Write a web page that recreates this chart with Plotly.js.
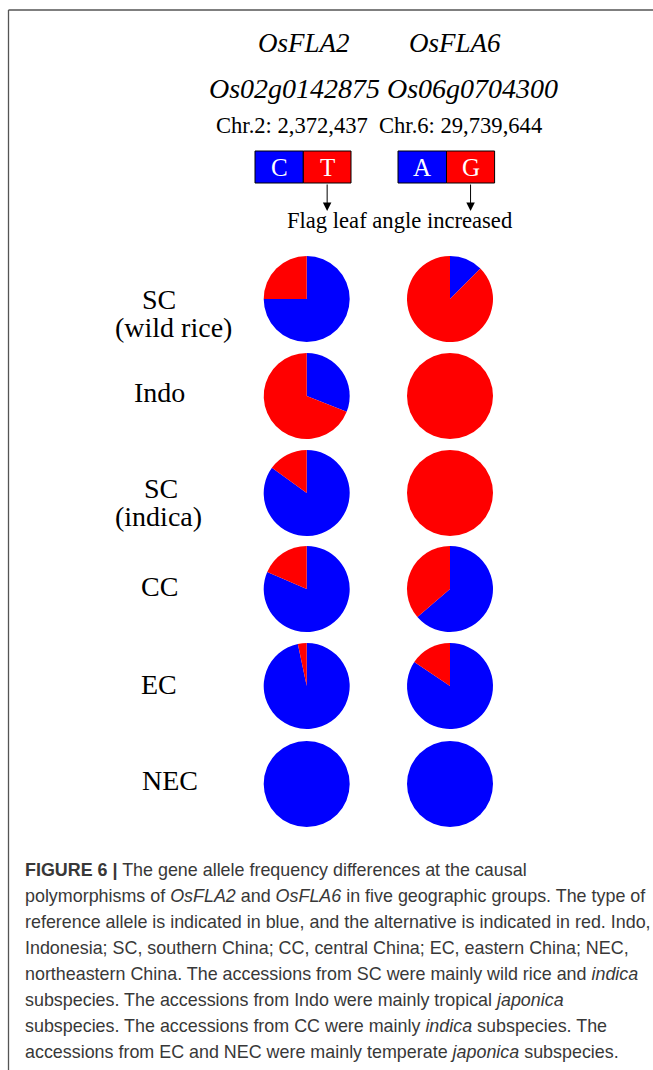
<!DOCTYPE html>
<html>
<head>
<meta charset="utf-8">
<script src="https://cdn.plot.ly/plotly-3.0.1.min.js"></script>
<style>
  html, body { margin: 0; padding: 0; background: #ffffff; overflow: hidden; }
  #chart { width: 653px; height: 1070px; }
</style>
</head>
<body>
<div id="chart"></div>
<script>
// ---------------- data ----------------
const groups    = ["SC", "Indo", "SC", "CC", "EC", "NEC"];
const subgroups = ["(wild rice)", "", "(indica)", "", "", ""];
const genes      = ["OsFLA2", "OsFLA6"];
const geneIds    = ["Os02g0142875", "Os06g0704300"];
const positions  = ["Chr.2: 2,372,437", "Chr.6: 29,739,644"];
const refAlleles = ["C", "A"];
const altAlleles = ["T", "G"];
const effectLabel = "Flag leaf angle increased";
// allele frequencies (reference = blue, alternative = red)
const fla2Ref = [0.75, 0.31, 0.85, 0.815, 0.967, 1.0];
const fla2Alt = [0.25, 0.69, 0.15, 0.185, 0.033, 0.0];
const fla6Ref = [0.125, 0.0, 0.0, 0.637, 0.844, 1.0];
const fla6Alt = [0.875, 1.0, 1.0, 0.363, 0.156, 0.0];
const captionLines = [
  "<b>FIGURE 6 |</b> The gene allele frequency differences at the causal",
  "polymorphisms of <i>OsFLA2</i> and <i>OsFLA6</i> in five geographic groups. The type of",
  "reference allele is indicated in blue, and the alternative is indicated in red. Indo,",
  "Indonesia; SC, southern China; CC, central China; EC, eastern China; NEC,",
  "northeastern China. The accessions from SC were mainly wild rice and <i>indica</i>",
  "subspecies. The accessions from Indo were mainly tropical <i>japonica</i>",
  "subspecies. The accessions from CC were mainly <i>indica</i> subspecies. The",
  "accessions from EC and NEC were mainly temperate <i>japonica</i> subspecies."
];

// ---------------- layout constants ----------------
const W = 653, H = 1070;
const BLUE = "#0000ff", RED = "#ff0000";
const SERIF = "Liberation Serif, Times New Roman, serif";
const SANS = "Liberation Sans, Arial, sans-serif";
const colX = [306.7, 450];
const rowY = [299, 396, 493, 589, 686, 784];
const R = 43;
const labelLeft = [139.5, 131.5, 141.5, 139, 139, 139.5];
const labelY = [299, 392, 488, 586, 684, 780];
const subLeft = 112.5, subDy = 28;
const geneX = [304, 455], geneY = 43;
const idX = [294, 472], idY = 88;
const posX = [292.4, 460.5], posY = 125;
const boxX = [[255, 303.3, 351], [398, 446.5, 494.6]];
const boxTop = 151, boxBot = 183, arrowTip = 211;
const effectX = 400, effectY = 220;
const capX = 22.7, capY0 = 870, capDy = 26;

const refSeries = [fla2Ref, fla6Ref];
const altSeries = [fla2Alt, fla6Alt];

const traces = [];
for (let c = 0; c < 2; c++) {
  for (let r = 0; r < groups.length; r++) {
    traces.push({
      type: "pie",
      labels: ["Reference", "Alternative"],
      values: [refSeries[c][r], altSeries[c][r]],
      marker: { colors: [BLUE, RED], line: { width: 0 } },
      sort: false,
      direction: "clockwise",
      rotation: 0,
      textinfo: "none",
      hoverinfo: "skip",
      showlegend: false,
      domain: {
        x: [(colX[c] - R) / W, (colX[c] + R) / W],
        y: [1 - (rowY[r] + R) / H, 1 - (rowY[r] - R) / H]
      }
    });
  }
}

const annotations = [];
const shapes = [];

// header
for (let c = 0; c < 2; c++) {
  annotations.push({ x: geneX[c], y: geneY, xref: "x", yref: "y", text: "<i>" + genes[c] + "</i>",
    showarrow: false, xanchor: "center", yanchor: "middle", font: { family: SERIF, size: 27, color: "#000" } });
  annotations.push({ x: idX[c], y: idY, xref: "x", yref: "y", text: "<i>" + geneIds[c] + "</i>",
    showarrow: false, xanchor: "center", yanchor: "middle", font: { family: SERIF, size: 28, color: "#000" } });
  annotations.push({ x: posX[c], y: posY, xref: "x", yref: "y", text: positions[c],
    showarrow: false, xanchor: "center", yanchor: "middle", font: { family: SERIF, size: 22.6, color: "#000" } });
  const bx = boxX[c];
  shapes.push({ type: "rect", xref: "x", yref: "y", x0: bx[0], x1: bx[1], y0: boxTop, y1: boxBot,
    fillcolor: BLUE, line: { color: "#000", width: 1 } });
  shapes.push({ type: "rect", xref: "x", yref: "y", x0: bx[1], x1: bx[2], y0: boxTop, y1: boxBot,
    fillcolor: RED, line: { color: "#000", width: 1 } });
  annotations.push({ x: (bx[0] + bx[1]) / 2, y: (boxTop + boxBot) / 2, xref: "x", yref: "y", text: refAlleles[c],
    showarrow: false, xanchor: "center", yanchor: "middle", font: { family: SERIF, size: 25, color: "#fff" } });
  annotations.push({ x: (bx[1] + bx[2]) / 2, y: (boxTop + boxBot) / 2, xref: "x", yref: "y", text: altAlleles[c],
    showarrow: false, xanchor: "center", yanchor: "middle", font: { family: SERIF, size: 25, color: "#fff" } });
  annotations.push({ x: (bx[1] + bx[2]) / 2, y: arrowTip, xref: "x", yref: "y", text: "",
    showarrow: true, axref: "x", ayref: "y", ax: (bx[1] + bx[2]) / 2, ay: boxBot,
    arrowhead: 2, arrowsize: 1.7, arrowwidth: 1, arrowcolor: "#000", standoff: 0, startstandoff: 0 });
}
annotations.push({ x: effectX, y: effectY, xref: "x", yref: "y", text: effectLabel,
  showarrow: false, xanchor: "center", yanchor: "middle", font: { family: SERIF, size: 22.6, color: "#000" } });

// row labels
for (let r = 0; r < groups.length; r++) {
  annotations.push({ x: labelLeft[r], y: labelY[r], xref: "x", yref: "y", text: groups[r],
    showarrow: false, xanchor: "left", yanchor: "middle", font: { family: SERIF, size: 28, color: "#000" } });
  if (subgroups[r]) {
    annotations.push({ x: subLeft, y: labelY[r] + subDy, xref: "x", yref: "y", text: subgroups[r],
      showarrow: false, xanchor: "left", yanchor: "middle", font: { family: SERIF, size: 28, color: "#000" } });
  }
}

// caption
captionLines.forEach((line, i) => {
  annotations.push({ x: capX, y: capY0 + i * capDy, xref: "x", yref: "y", text: line,
    showarrow: false, xanchor: "left", yanchor: "middle", font: { family: SANS, size: 17.9, color: "#383838" } });
});

// frame lines
shapes.push({ type: "line", xref: "x", yref: "y", x0: 8.5, x1: W, y0: 10, y1: 10, line: { color: "#555", width: 1.3 } });
shapes.push({ type: "line", xref: "x", yref: "y", x0: 8.5, x1: 8.5, y0: 10, y1: H, line: { color: "#555", width: 1.3 } });

const layout = {
  width: W, height: H,
  margin: { l: 0, r: 0, t: 0, b: 0, pad: 0 },
  paper_bgcolor: "#ffffff", plot_bgcolor: "rgba(0,0,0,0)",
  showlegend: false,
  xaxis: { range: [0, W], visible: false, fixedrange: true },
  yaxis: { range: [H, 0], visible: false, fixedrange: true },
  annotations: annotations,
  shapes: shapes
};

Plotly.newPlot("chart", traces, layout, { displayModeBar: false, staticPlot: true });
</script>
</body>
</html>
